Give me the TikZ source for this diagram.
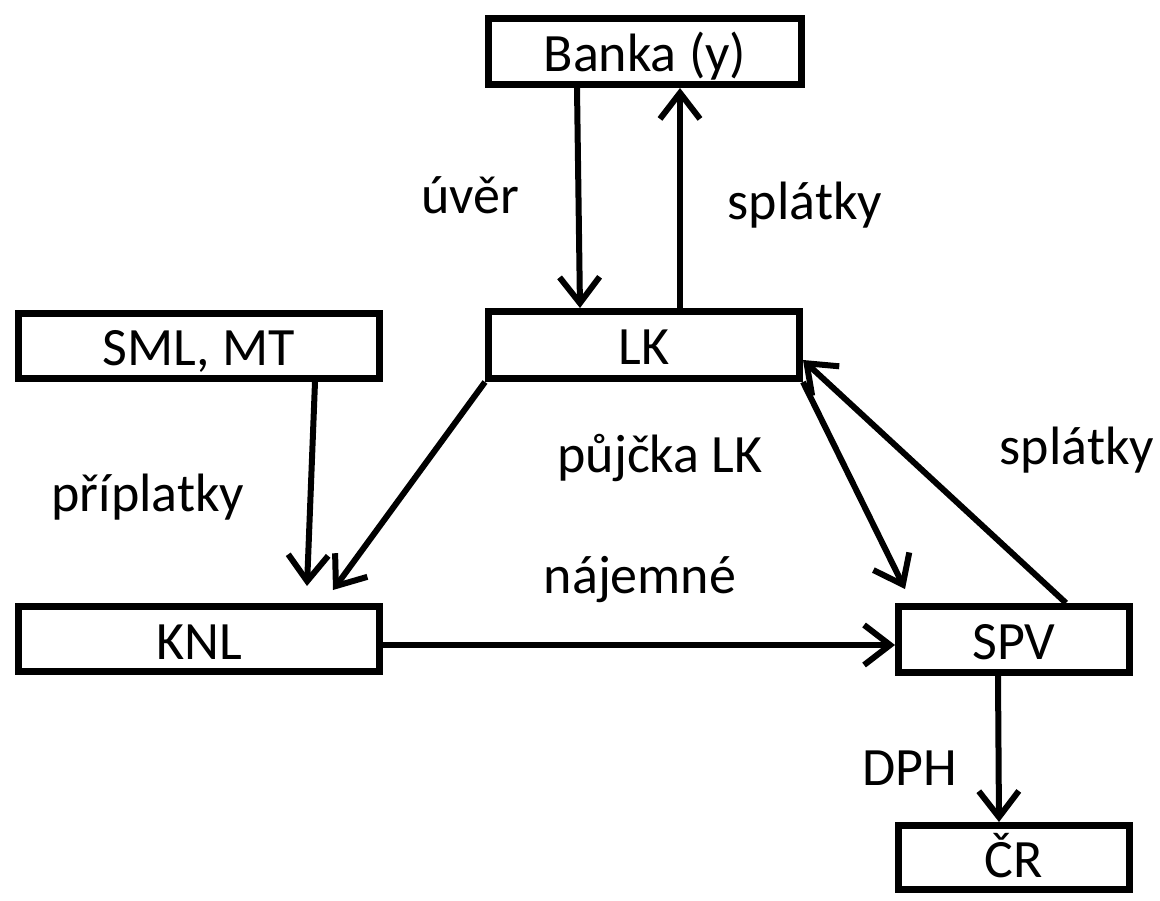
\documentclass[tikz,border=0pt]{standalone}
\usepackage{fontspec}
\setmainfont{Carlito}
\usetikzlibrary{arrows.meta,calc}
\begin{document}
\begin{tikzpicture}[x=1pt,y=-1pt,
  box/.style={draw=black,line width=7pt,rectangle,inner sep=0pt,text height=40pt,text depth=0pt,font=\fontsize{54}{60}\selectfont},
  lbl/.style={font=\fontsize{54}{60}\selectfont,inner sep=0pt},
  arr/.style={line width=6pt,-{Straight Barb[length=26pt,width=40pt]}}]
\useasboundingbox (0,0) rectangle (1160,901);
\node[box,minimum width=313pt,minimum height=66pt] (banka) at (645,51.5) {Banka (y)};
\node[box,minimum width=311pt,minimum height=67pt] (lk) at (644,345) {LK};
\node[box,minimum width=361pt,minimum height=65pt] (sml) at (199,346) {SML, MT};
\node[box,minimum width=361pt,minimum height=65pt] (knl) at (199,639) {KNL};
\node[box,minimum width=231pt,minimum height=66pt] (spv) at (1014,639.5) {SPV};
\node[box,minimum width=231pt,minimum height=64pt] (cr) at (1014,857.5) {ČR};
% labels
\node[lbl] (tuver) at (470,195) {úvěr};
\node[lbl] (tspl1) at (805,205) {splátky};
\node[lbl] (tpripl) at (148,497) {příplatky};
\node[lbl] (tpujc) at (660,458) {půjčka LK};
\node[lbl] (tspl2) at (1077,450) {splátky};
\node[lbl] (tnaj) at (640,580) {nájemné};
\node[lbl] (tdph) at (910,768) {DPH};
% connectors
\draw[arr] (banka.south -| 577,0) -- (lk.north -| 580,0);
\draw[arr] (lk.north -| 680,0) -- (banka.south -| 680,0);
\draw[arr] (sml.south -| 315,0) -- ($(knl.north -| 307,0)+(0,-17)$);
\draw[arr] (lk.south west) -- ($(knl.north -| 333,0)+(0,-13)$);
\draw[arr] (lk.south east) -- ($(spv.north -| 905,0)+(0,-14)$);
\draw[arr] (spv.north -| 1066,0) -- (lk.east |- 0,360);
\draw[arr] (knl.east |- 0,645) -- (spv.west |- 0,645);
\draw[arr] (spv.south -| 998,0) -- (cr.north -| 999,0);
\end{tikzpicture}
\end{document}
